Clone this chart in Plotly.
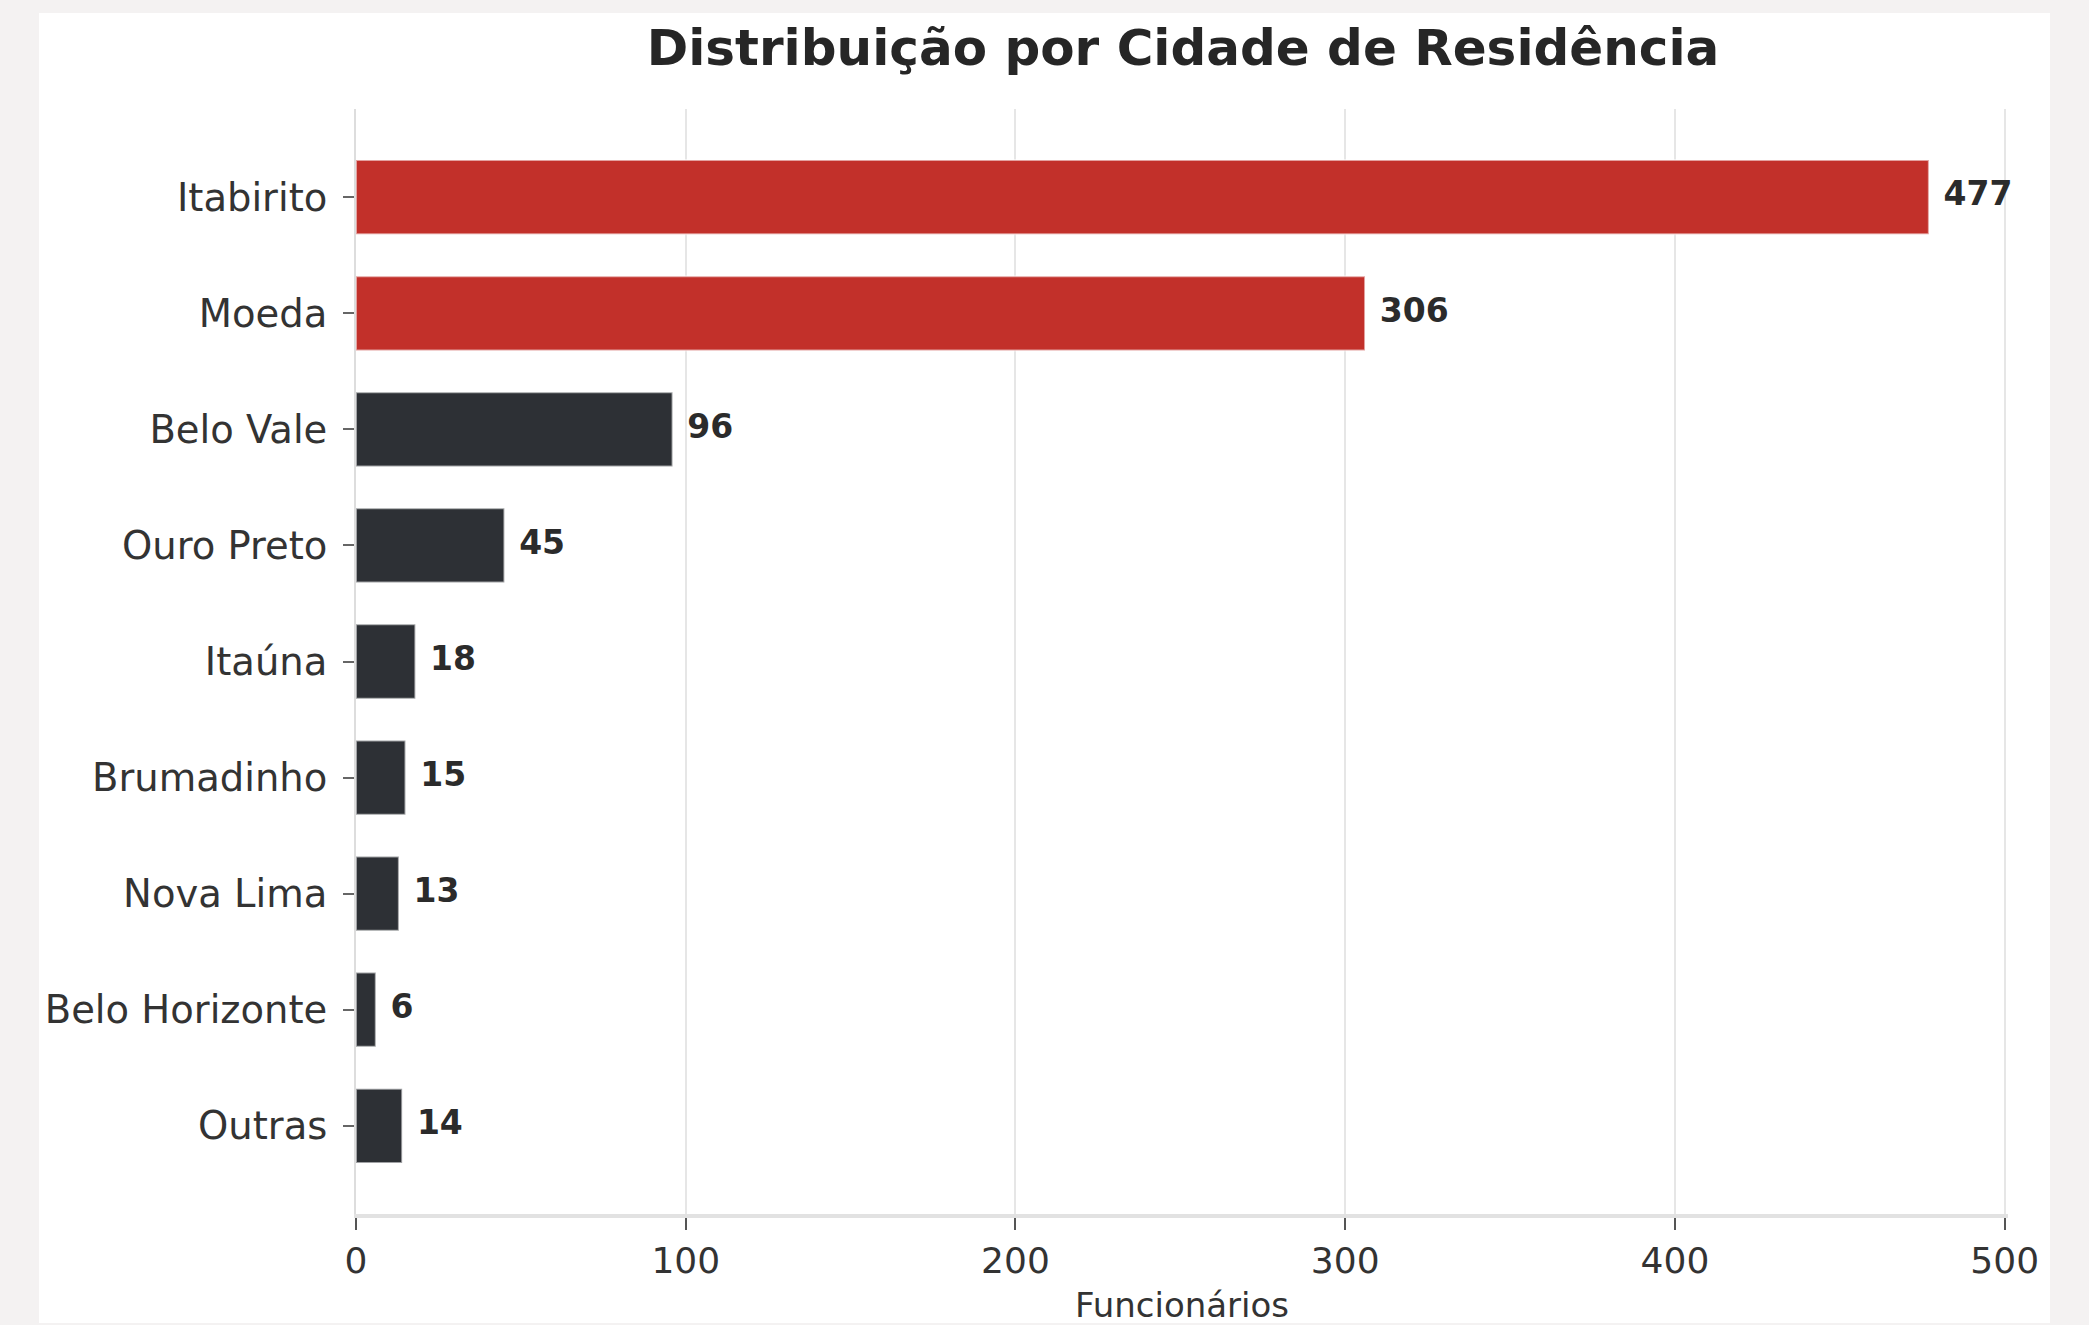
import plotly.graph_objects as go

cities = ["Itabirito", "Moeda", "Belo Vale", "Ouro Preto", "Itaúna",
          "Brumadinho", "Nova Lima", "Belo Horizonte", "Outras"]
employees = [477, 306, 96, 45, 18, 15, 13, 6, 14]
highlight = [True, True, False, False, False, False, False, False, False]
x_ticks = [0, 100, 200, 300, 400, 500]

RED = "#c2302a"
DARK = "#2d3035"
colors = [RED if h else DARK for h in highlight]

W, H = 2089, 1325
L, R, T, B = 356, 81, 109, 111
pw, ph = W - L - R, H - T - B

def px_x(p):
    return (p - L) / pw

def px_y(p):
    return (H - B - p) / ph

FONT = "DejaVu Sans"

fig = go.Figure()
fig.add_trace(go.Bar(
    x=employees, y=cities, orientation="h", width=0.64,
    marker=dict(color=colors, line=dict(color="rgba(255,255,255,0.55)", width=2)),
    hoverinfo="skip", showlegend=False,
))
fig.add_trace(go.Scatter(
    x=employees, y=cities, mode="markers+text",
    text=[str(v) for v in employees], textposition="middle right",
    marker=dict(size=22, color="rgba(0,0,0,0)"),
    textfont=dict(family=FONT, size=33, color="#2b2b2b", weight="bold"),
    cliponaxis=False, hoverinfo="skip", showlegend=False,
))

# white panel
fig.add_shape(type="rect", xref="paper", yref="paper", layer="below",
              x0=px_x(39), x1=px_x(2050), y0=px_y(1323), y1=px_y(13),
              fillcolor="white", line=dict(width=0))

fig.update_layout(
    width=W, height=H,
    margin=dict(l=L, r=R, t=T, b=B, pad=0, autoexpand=False),
    paper_bgcolor="#f4f2f2", plot_bgcolor="white",
    title=dict(text="<b>Distribuição por Cidade de Residência</b>",
               x=1183 / W, xanchor="center", y=1 - 47 / H, yanchor="middle",
               yref="container",
               font=dict(family=FONT, size=50, color="#262626")),
    font=dict(family=FONT, color="#333333"),
)
fig.update_xaxes(
    automargin=False,
    range=[0, 501], tickvals=x_ticks, ticktext=[str(t) for t in x_ticks],
    showgrid=True, gridcolor="#e6e6e6", gridwidth=2, zeroline=False,
    showline=True, linecolor="#e2e2e2", linewidth=4,
    ticks="outside", ticklen=12, tickwidth=2, tickcolor="#555555",
    tickfont=dict(family=FONT, size=36, color="#333333"),
    title=dict(text="Funcionários", font=dict(family=FONT, size=34, color="#333333"),
               standoff=20),
)
fig.update_yaxes(
    automargin=False,
    categoryorder="array", categoryarray=cities,
    range=[8.76, -0.76],
    showgrid=False, zeroline=False,
    showline=True, linecolor="#dddddd", linewidth=2,
    ticks="outside", ticklen=11, tickwidth=2, tickcolor="#666666",
    tickfont=dict(family=FONT, size=38.5, color="#333333"),
    ticklabelstandoff=8,
)

fig.write_html("out.html")
